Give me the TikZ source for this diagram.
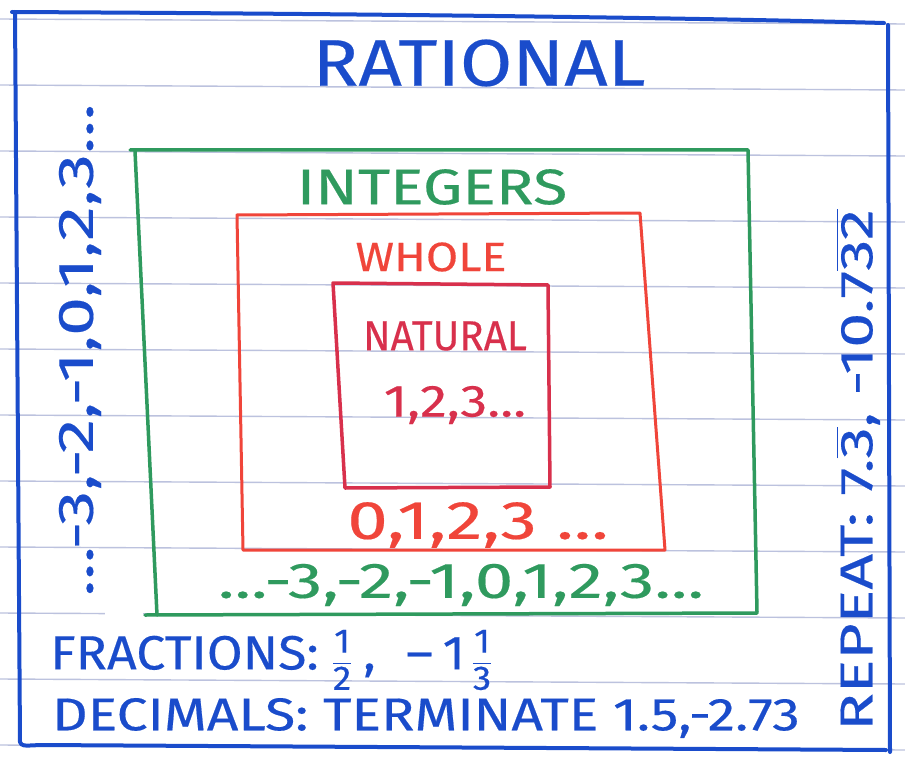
\documentclass[tikz,border=0pt]{standalone}
\usepackage{fontspec}
\setmainfont{Fira Sans}[FakeBold=0.3]
\usepackage{amsmath}
\definecolor{penblue}{HTML}{1A4CCB}
\definecolor{pengreen}{HTML}{2F9A5E}
\definecolor{penred}{HTML}{F0453A}
\definecolor{pencrimson}{HTML}{D8304C}
\definecolor{rulecol}{HTML}{BCC2DE}
\newcommand\fs[1]{\fontsize{#1}{#1}\selectfont}
\newcommand\sx[2]{\scalebox{#1}[1]{#2}}
\newcommand\ov[1]{\ensuremath{\overline{\hbox{#1}}}}
\newcommand\hf[2]{\ensuremath{\dfrac{\hbox{\fs{34}#1}}{\hbox{\fs{34}#2}}}}
\tikzset{
  rulestyle/.style={draw=rulecol, line width=1.4pt},
  bluebox/.style={draw=penblue, line width=4pt},
  greenbox/.style={draw=pengreen, line width=3.5pt},
  redbox/.style={draw=penred, line width=3pt},
  crimsonbox/.style={draw=pencrimson, line width=3.5pt},
  lbl/.style={inner sep=0pt, anchor=center},
  patch/.style={fill=white, draw=none}
}
\begin{document}
\begin{tikzpicture}[x=1pt,y=-1pt,line cap=round,line join=round]
\useasboundingbox (0,0) rectangle (905,757);
\fill[white] (0,0) rectangle (905,757);
% ruled paper
\foreach \k in {0,...,11} \draw[rulestyle] (0,{19+66*\k}) -- (905,{24+66*\k});
% correction patches
\fill[patch] (105,595) rectangle (143,633);
\fill[patch] (512,505) rectangle (610,546);
% outer blue box
\draw[bluebox] (12,12) .. controls (400,14) and (700,18) .. (884,23);
\draw[bluebox] (888,25) -- (890,752);
\draw[bluebox] (15,12) -- (20,742) .. controls (22,746) .. (40,745) -- (886,750);
% green box
\draw[greenbox] (130,150) -- (748,150) -- (757,612);
\draw[greenbox] (135,151) -- (157,615);
\draw[greenbox] (145,615) -- (757,613);
% red box
\draw[redbox] (237,215) -- (640,213) -- (665,550) -- (243,550) -- cycle;
% crimson box
\draw[crimsonbox] (333,283) -- (548,285) -- (550,487) -- (345,488) -- cycle;
% texts
\node[lbl, text=penblue] (rational) at (479,63) {\fs{66}\sx{1.15}{RATIONAL}};
\node[lbl, text=pengreen] (integers) at (432,187) {\fs{50}\sx{1.25}{INTEGERS}};
\node[lbl, text=penred] (whole) at (431,257) {\fs{41}\sx{1.14}{WHOLE}};
\node[lbl, text=pencrimson] (natural) at (445,336) {\fs{42}\sx{0.96}{NATURAL}};
\node[lbl, text=pencrimson] (nat123) at (455,405) {\fs{45}\sx{1.2}{1,2,3...}};
\node[lbl, text=penred] (whole0123) at (478,525) {\fs{54}\sx{1.35}{0,1,2,3 ...}};
\node[lbl, text=pengreen] (intlist) at (461,585) {\fs{50}\sx{1.38}{...-3,-2,-1,0,1,2,3...}};
\node[lbl, text=penblue, rotate=90] (leftlist) at (80,350) {\fs{50}\sx{1.4}{...-3,-2,-1,0,1,2,3...}};
\node[lbl, text=penblue, rotate=90] (repeat) at (858,470) {\fs{46}\sx{1.36}{REPEAT: 7.\ov{3}, -10.7\ov{32}}};
\node[lbl, text=penblue, anchor=west] (fractions) at (50,660) {\fs{48}\sx{1.08}{FRACTIONS:\kern12pt\hf{1}{2}\kern10pt,\kern28pt–\kern9pt1\kern6pt\hf{1}{3}}};
\node[lbl, text=penblue, anchor=west] (decimals) at (52,718) {\fs{46}\sx{1.2}{DECIMALS: TERMINATE 1.5,-2.73}};
\end{tikzpicture}
\end{document}
